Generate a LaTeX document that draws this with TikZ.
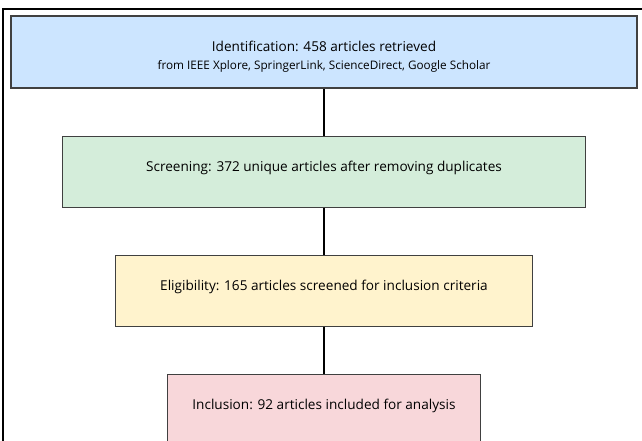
\documentclass[tikz,border=0pt]{standalone}
\usepackage{fontspec}
\setmainfont{Open Sans}
\usepackage{tikz}
\usetikzlibrary{positioning}
\definecolor{identblue}{HTML}{CCE5FF}
\definecolor{screengreen}{HTML}{D4EDDA}
\definecolor{eligyellow}{HTML}{FFF3CD}
\definecolor{inclpink}{HTML}{F8D7DA}
\begin{document}
\begin{tikzpicture}[
  x=0.75pt, y=0.75pt,
  box/.style={rectangle, draw=black!75, line width=0.9pt, align=center, minimum height=53.25pt, inner sep=0pt, font=\fontsize{10.2}{12}\selectfont},
  onerow/.style={text depth=8pt},
  node distance=35.25pt,
  link/.style={line width=0.9pt}
]
\useasboundingbox (0,0) rectangle (642,441);
\clip (0,0) rectangle (642,441);
% outer frame, cut off at right and bottom
\draw[line width=1.5pt] (3,431.5) rectangle (660,-20);
\node[box, fill=identblue, minimum width=469.5pt, minimum height=54pt] (ident) at (324,389)
  {\rule{0pt}{15pt}Identification: 458 articles retrieved\\[1pt]{\fontsize{8.8}{10}\selectfont from IEEE Xplore, SpringerLink, ScienceDirect, Google Scholar}};
\node[box, onerow, fill=screengreen, minimum width=392.25pt, below=of ident] (screen) {Screening: 372 unique articles after removing duplicates};
\node[box, onerow, fill=eligyellow, minimum width=312.75pt, below=of screen] (elig) {Eligibility: 165 articles screened for inclusion criteria};
\node[box, onerow, fill=inclpink, minimum width=234.75pt, below=of elig] (incl) {Inclusion: 92 articles included for analysis};
\draw[link] (ident) -- (screen);
\draw[link] (screen) -- (elig);
\draw[link] (elig) -- (incl);
\end{tikzpicture}
\end{document}
